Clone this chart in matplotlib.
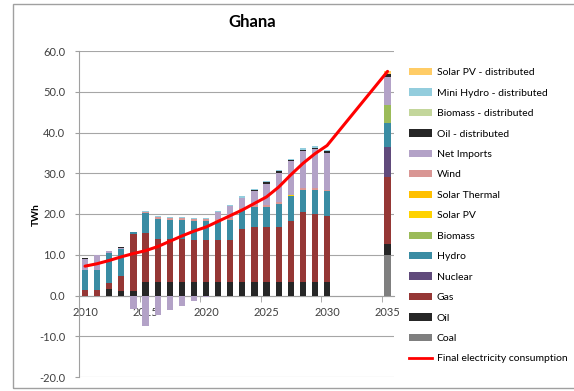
"""
Ghana electricity generation mix with final consumption line
"""
import matplotlib
matplotlib.use("Agg")
import matplotlib.pyplot as plt
from matplotlib.patches import Patch, Rectangle
from matplotlib.lines import Line2D
import numpy as np

years = [2010, 2011, 2012, 2013, 2014, 2015, 2016, 2017, 2018, 2019, 2020,
         2021, 2022, 2023, 2024, 2025, 2026, 2027, 2028, 2029, 2030, 2035]

# TWh per technology (bottom of the stack first)
coal = [0, 0, 0, 0, 0, 0, 0, 0, 0, 0, 0, 0, 0, 0, 0, 0, 0, 0, 0, 0, 0, 10.0]
oil = [0, 0, 1.7, 1.0, 1.0, 3.4, 3.4, 3.4, 3.4, 3.3, 3.3,
       3.3, 3.3, 3.3, 3.3, 3.3, 3.3, 3.3, 3.3, 3.3, 3.3, 2.7]
gas = [1.4, 1.4, 1.3, 3.7, 14.0, 11.9, 10.4, 10.4, 10.4, 10.3, 10.2,
       10.2, 10.2, 12.9, 13.4, 13.4, 13.4, 15.1, 17.1, 16.6, 16.1, 16.4]
nuclear = [0, 0, 0, 0, 0, 0, 0, 0, 0, 0, 0, 0, 0, 0, 0, 0, 0, 0, 0, 0, 0, 7.3]
hydro = [4.9, 4.9, 7.5, 6.6, 0.6, 4.9, 5.0, 4.8, 4.8, 4.8, 4.8,
         4.8, 5.1, 4.9, 5.1, 5.1, 5.8, 5.9, 5.6, 6.1, 6.2, 5.9]
biomass = [0, 0, 0, 0, 0, 0, 0, 0, 0, 0, 0, 0, 0, 0, 0, 0, 0, 0, 0, 0, 0, 4.5]
solar_pv = [0, 0, 0, 0, 0, 0, 0, 0, 0, 0, 0, 0, 0, 0, 0, 0, 0, 0.3, 0, 0, 0, 0]
solar_thermal = [0] * 22
wind = [0, 0, 0, 0, 0, 0.3, 0.4, 0.4, 0.4, 0.4, 0.4,
        0.4, 0.4, 0.4, 0.4, 0.4, 0.4, 0.1, 0.4, 0.4, 0.4, 0]
net_imports = [2.7, 3.6, 0.3, 0.4, -3.3, -7.6, -4.9, -3.6, -2.5, -1.4, -0.4,
               1.7, 2.9, 2.4, 3.5, 5.2, 7.1, 8.4, 9.1, 9.5, 8.9, 6.9]
oil_dist = [0.2, 0.1, 0.1, 0.1, 0, 0, 0, 0, 0, 0, 0,
            0.1, 0.1, 0.1, 0.1, 0.4, 0.5, 0.2, 0.3, 0.4, 0.6, 0.7]
biomass_dist = [0] * 22
minihydro_dist = [0, 0, 0, 0, 0.1, 0.3, 0.3, 0.3, 0.3, 0.3, 0.3,
                  0.3, 0.3, 0.3, 0.3, 0.3, 0.3, 0.3, 0.3, 0.3, 0.2, 0]
solarpv_dist = [0, 0, 0, 0, 0, 0, 0, 0, 0, 0, 0, 0, 0, 0, 0, 0, 0, 0, 0, 0, 0.1, 0.8]

consumption = [7.2, 7.8, 8.6, 9.5, 10.3, 11.0, 12.0, 13.3, 14.6, 15.8, 16.8,
               18.2, 19.6, 21.0, 22.6, 24.2, 26.6, 29.6, 32.4, 34.8, 36.8, 55.0]

series = [
    ("Coal", coal, "#7F7F7F"),
    ("Oil", oil, "#262626"),
    ("Gas", gas, "#953735"),
    ("Nuclear", nuclear, "#604A7B"),
    ("Hydro", hydro, "#3A8CA3"),
    ("Biomass", biomass, "#9BBB59"),
    ("Solar PV", solar_pv, "#FFD200"),
    ("Solar Thermal", solar_thermal, "#FFC000"),
    ("Wind", wind, "#D99694"),
    ("Net Imports", net_imports, "#B3A2C7"),
    ("Oil - distributed", oil_dist, "#262626"),
    ("Biomass - distributed", biomass_dist, "#C3D69B"),
    ("Mini Hydro - distributed", minihydro_dist, "#93CDDD"),
    ("Solar PV - distributed", solarpv_dist, "#FFCC66"),
]

plt.rcParams["font.family"] = ["Lato", "DejaVu Sans"]
W, H = 574, 391
fig = plt.figure(figsize=(W / 100, H / 100), dpi=100)
ax = fig.add_axes([79 / W, 1 - 377 / H, (393.6 - 79) / W, (377 - 51) / H])

x = np.array(years, dtype=float)
pos_base = np.zeros(len(years))
neg_base = np.zeros(len(years))
for name, vals, col in series:
    v = np.array(vals, dtype=float)
    bottom = np.where(v >= 0, pos_base, neg_base)
    ax.bar(x, v, width=0.52, bottom=bottom, color=col, linewidth=0, zorder=3)
    pos_base = pos_base + np.where(v > 0, v, 0)
    neg_base = neg_base + np.where(v < 0, v, 0)

ax.plot(x, consumption, color="#FF0000", lw=2.2, zorder=4, solid_capstyle="round")

ax.set_xlim(2009.5, 2035.5)
ax.set_ylim(-20, 60)
ax.set_yticks(np.arange(-20, 61, 10))
ax.set_yticklabels(["%.1f" % v for v in np.arange(-20, 61, 10)])
ax.set_xticks([2010, 2015, 2020, 2025, 2030, 2035])
ax.set_xticks([2014.5, 2019.5, 2024.5, 2029.5, 2034.5], minor=True)
ax.tick_params(axis="x", which="major", length=0, pad=8, labelsize=8, colors="#404040")
ax.tick_params(axis="x", which="minor", length=4, direction="out", color="#A0A0A0")
ax.tick_params(axis="y", length=3, direction="out", color="#A0A0A0", pad=7,
               labelsize=8, labelcolor="#404040")
ax.yaxis.grid(True, color="#A6A6A6", lw=0.8, zorder=0)
ax.set_axisbelow(True)
for s in ("top", "right"):
    ax.spines[s].set_visible(False)
ax.spines["bottom"].set_position(("data", 0))
ax.spines["bottom"].set_color("#A0A0A0")
ax.spines["left"].set_color("#A0A0A0")
ax.patch.set_visible(False)

fig.text(252 / W, 1 - 22 / H, "Ghana", fontsize=12, fontweight="bold",
         ha="center", va="center")
fig.text(36 / W, 1 - 215 / H, "TWh", fontsize=7.5, fontweight="bold",
         rotation=90, ha="center", va="center")

handles = [Patch(facecolor=c, edgecolor="none", label=n) for n, v, c in reversed(series)]
handles.append(Line2D([], [], color="#FF0000", lw=2, label="Final electricity consumption"))
fig.legend(handles=handles, loc="upper left", bbox_to_anchor=(409 / W, 1 - 68 / H),
           frameon=False, fontsize=7.5, handlelength=2.2, handleheight=0.7,
           handletextpad=0.45, labelspacing=1.07, borderaxespad=0, borderpad=0)

fig.patches.append(Rectangle((13 / W, 1 - 388 / H), (600 - 13) / W, (388 - 4) / H,
                             transform=fig.transFigure, fill=False,
                             edgecolor="#A0A0A0", lw=1))

fig.savefig("out.png", dpi=100)
plt.close()
